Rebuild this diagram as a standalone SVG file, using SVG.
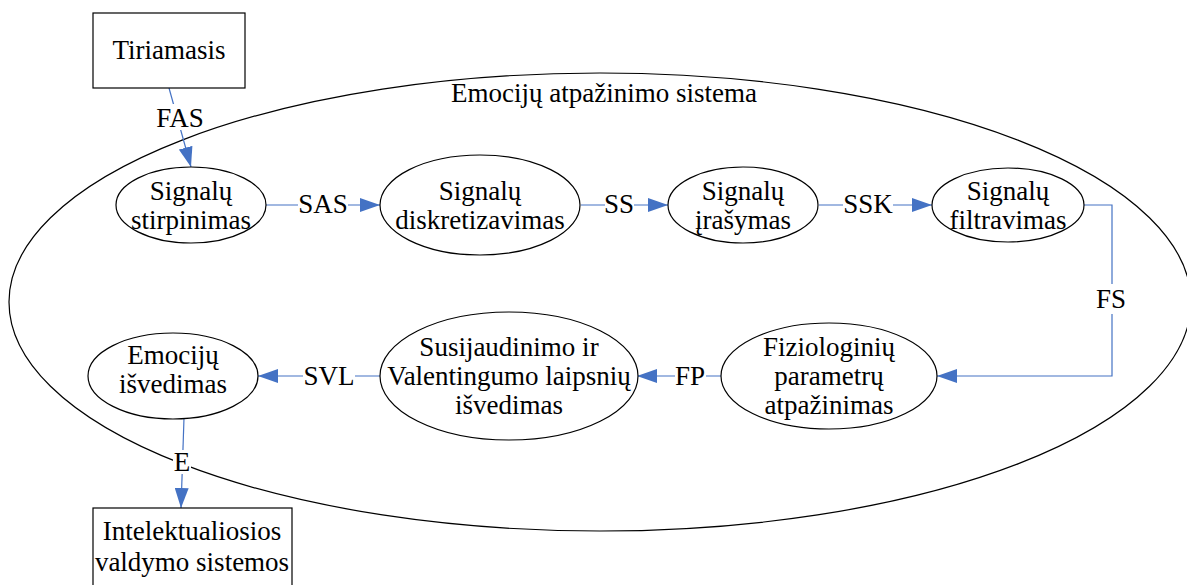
<svg xmlns="http://www.w3.org/2000/svg" width="1187" height="585" viewBox="0 0 1187 585">
<defs>
<marker id="ah" viewBox="0 0 20 14" refX="20" refY="7" markerWidth="20" markerHeight="14" markerUnits="userSpaceOnUse" orient="auto">
<path d="M0,0 L20,7 L0,14 Z" fill="#4472C4"/>
</marker>
</defs>
<g id="system">
<ellipse cx="600" cy="302" rx="591" ry="229" fill="none" stroke="#000" stroke-width="1.2"/>
<text x="604" y="102" font-family="Times New Roman, Liberation Serif, serif" font-size="27" text-anchor="middle">Emocijų atpažinimo sistema</text>
</g>
<g id="connectors" fill="none" stroke="#4472C4" stroke-width="1.2">
<line x1="169" y1="88" x2="191" y2="167" marker-end="url(#ah)"/>
<line x1="266" y1="205" x2="380" y2="205" marker-end="url(#ah)"/>
<line x1="581" y1="205" x2="668" y2="205" marker-end="url(#ah)"/>
<line x1="819" y1="205" x2="932" y2="205" marker-end="url(#ah)"/>
<polyline points="1084,205 1112,205 1112,376 937,376" marker-end="url(#ah)"/>
<line x1="721" y1="376" x2="637" y2="376" marker-end="url(#ah)"/>
<line x1="380" y1="376" x2="258" y2="376" marker-end="url(#ah)"/>
<line x1="184" y1="418" x2="181" y2="508" marker-end="url(#ah)"/>
</g>
<g id="connector-labels">
<rect x="155" y="104" width="50" height="26" fill="#fff"/>
<text x="180" y="127" font-family="Times New Roman, Liberation Serif, serif" font-size="27" text-anchor="middle">FAS</text>
<rect x="298" y="192" width="50" height="26" fill="#fff"/>
<text x="323" y="213" font-family="Times New Roman, Liberation Serif, serif" font-size="27" text-anchor="middle">SAS</text>
<rect x="605" y="192" width="29" height="26" fill="#fff"/>
<text x="619" y="213" font-family="Times New Roman, Liberation Serif, serif" font-size="27" text-anchor="middle">SS</text>
<rect x="843" y="192" width="50" height="26" fill="#fff"/>
<text x="868" y="213" font-family="Times New Roman, Liberation Serif, serif" font-size="27" text-anchor="middle">SSK</text>
<rect x="1095" y="284" width="32" height="30" fill="#fff"/>
<text x="1111" y="308" font-family="Times New Roman, Liberation Serif, serif" font-size="27" text-anchor="middle">FS</text>
<rect x="675" y="363" width="31" height="26" fill="#fff"/>
<text x="690" y="385" font-family="Times New Roman, Liberation Serif, serif" font-size="27" text-anchor="middle">FP</text>
<rect x="303" y="363" width="52" height="26" fill="#fff"/>
<text x="329" y="385" font-family="Times New Roman, Liberation Serif, serif" font-size="27" text-anchor="middle">SVL</text>
<rect x="173" y="450" width="18" height="24" fill="#fff"/>
<text x="182" y="471" font-family="Times New Roman, Liberation Serif, serif" font-size="27" text-anchor="middle">E</text>
</g>
<g id="tiriamasis">
<rect x="93" y="13" width="152" height="75" fill="#fff" stroke="#000" stroke-width="1.2"/>
<text x="169" y="59" font-family="Times New Roman, Liberation Serif, serif" font-size="27" text-anchor="middle">Tiriamasis</text>
</g>
<g id="stirpinimas">
<ellipse cx="191" cy="205" rx="75" ry="38" fill="#fff" stroke="#000" stroke-width="1.2"/>
<text x="191" y="200" font-family="Times New Roman, Liberation Serif, serif" font-size="27" text-anchor="middle">Signalų</text>
<text x="191" y="229" font-family="Times New Roman, Liberation Serif, serif" font-size="27" text-anchor="middle">stirpinimas</text>
</g>
<g id="diskretizavimas">
<ellipse cx="480" cy="205" rx="100" ry="50" fill="#fff" stroke="#000" stroke-width="1.2"/>
<text x="480" y="200" font-family="Times New Roman, Liberation Serif, serif" font-size="27" text-anchor="middle">Signalų</text>
<text x="480" y="229" font-family="Times New Roman, Liberation Serif, serif" font-size="27" text-anchor="middle">diskretizavimas</text>
</g>
<g id="irasymas">
<ellipse cx="743" cy="205" rx="75" ry="38" fill="#fff" stroke="#000" stroke-width="1.2"/>
<text x="743" y="200" font-family="Times New Roman, Liberation Serif, serif" font-size="27" text-anchor="middle">Signalų</text>
<text x="743" y="229" font-family="Times New Roman, Liberation Serif, serif" font-size="27" text-anchor="middle">įrašymas</text>
</g>
<g id="filtravimas">
<ellipse cx="1008" cy="205" rx="76" ry="37" fill="#fff" stroke="#000" stroke-width="1.2"/>
<text x="1008" y="200" font-family="Times New Roman, Liberation Serif, serif" font-size="27" text-anchor="middle">Signalų</text>
<text x="1008" y="229" font-family="Times New Roman, Liberation Serif, serif" font-size="27" text-anchor="middle">filtravimas</text>
</g>
<g id="fiziologiniu">
<ellipse cx="829" cy="376" rx="108" ry="53" fill="#fff" stroke="#000" stroke-width="1.2"/>
<text x="829" y="356" font-family="Times New Roman, Liberation Serif, serif" font-size="27" text-anchor="middle">Fiziologinių</text>
<text x="829" y="385" font-family="Times New Roman, Liberation Serif, serif" font-size="27" text-anchor="middle">parametrų</text>
<text x="829" y="414" font-family="Times New Roman, Liberation Serif, serif" font-size="27" text-anchor="middle">atpažinimas</text>
</g>
<g id="susijaudinimo">
<ellipse cx="509" cy="376" rx="129" ry="64" fill="#fff" stroke="#000" stroke-width="1.2"/>
<text x="509" y="356" font-family="Times New Roman, Liberation Serif, serif" font-size="27" text-anchor="middle">Susijaudinimo ir</text>
<text x="509" y="385" font-family="Times New Roman, Liberation Serif, serif" font-size="27" text-anchor="middle">Valentingumo laipsnių</text>
<text x="509" y="414" font-family="Times New Roman, Liberation Serif, serif" font-size="27" text-anchor="middle">išvedimas</text>
</g>
<g id="emociju">
<ellipse cx="173" cy="376" rx="85" ry="43" fill="#fff" stroke="#000" stroke-width="1.2"/>
<text x="173" y="364" font-family="Times New Roman, Liberation Serif, serif" font-size="27" text-anchor="middle">Emocijų</text>
<text x="173" y="393" font-family="Times New Roman, Liberation Serif, serif" font-size="27" text-anchor="middle">išvedimas</text>
</g>
<g id="intelektualiosios">
<rect x="93" y="508" width="199" height="85" fill="#fff" stroke="#000" stroke-width="1.2"/>
<text x="192" y="540" font-family="Times New Roman, Liberation Serif, serif" font-size="27" text-anchor="middle">Intelektualiosios</text>
<text x="192" y="571" font-family="Times New Roman, Liberation Serif, serif" font-size="27" text-anchor="middle">valdymo sistemos</text>
</g>
</svg>
